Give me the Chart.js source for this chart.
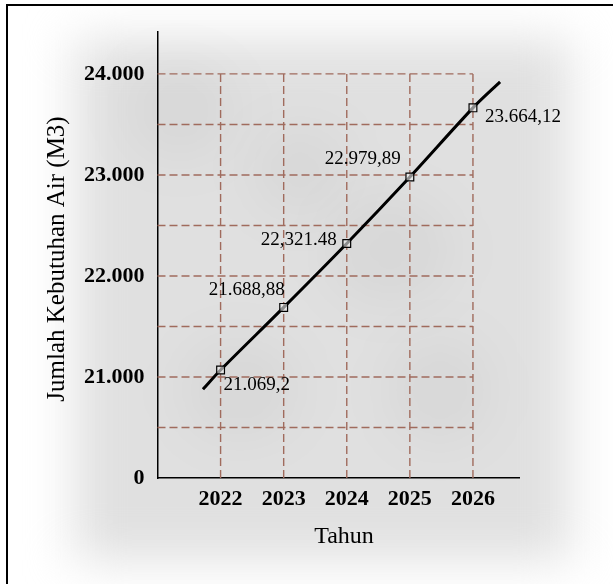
<!DOCTYPE html>
<html>
<head>
<meta charset="utf-8">
<script src="https://cdn.jsdelivr.net/npm/chart.js@4/dist/chart.umd.min.js"></script>
<style>
  html, body { margin: 0; padding: 0; background: #fff; }
  #wrap { width: 613px; height: 584px; }
</style>
</head>
<body>
<div id="wrap"><canvas id="myChart" width="613" height="584"></canvas></div>
<script>
// data
const years = [2022, 2023, 2024, 2025, 2026];
const demand = [21069.2, 21688.88, 22321.48, 22979.89, 23664.12];
const pointLabels = ['21.069,2', '21.688,88', '22,321.48', '22.979,89', '23.664,12'];
// the curve runs a little past the first and last year
const curveStart = [2021.72, 20878];
const curveEnd = [2026.43, 23921];
const yTicks = [20000, 21000, 22000, 23000, 24000];
const yTickLabels = ['0', '21.000', '22.000', '23.000', '24.000'];

const serif = "'Liberation Serif', 'Times New Roman', serif";

const points = [{ x: curveStart[0], y: curveStart[1] }]
    .concat(years.map((yr, i) => ({ x: yr, y: demand[i] })))
    .concat([{ x: curveEnd[0], y: curveEnd[1] }]);
const radii = points.map((p, i) => (i === 0 || i === points.length - 1) ? 0 : 5.5);

// backdrop: blurred grey shadow + frame
const backdrop = {
    id: 'backdrop',
    beforeDraw(chart) {
        const ctx = chart.ctx;
        ctx.save();
        ctx.fillStyle = '#fff';
        ctx.fillRect(0, 0, chart.width, chart.height);
        ctx.filter = 'blur(24px)';
        ctx.fillStyle = '#e0e0e0';
        ctx.fillRect(75, 40, 495, 520);
        ctx.filter = 'blur(30px)';
        ctx.fillStyle = 'rgba(0,0,0,0.045)';
        [[180, 110, 50, 45], [390, 250, 60, 50], [240, 390, 55, 45], [440, 390, 45, 50], [300, 170, 45, 40]].forEach(b => {
            ctx.beginPath();
            ctx.ellipse(b[0], b[1], b[2], b[3], 0, 0, Math.PI * 2);
            ctx.fill();
        });
        ctx.filter = 'none';
        ctx.strokeStyle = '#000';
        ctx.lineWidth = 2;
        ctx.beginPath();
        ctx.moveTo(6, 5);
        ctx.lineTo(chart.width, 5);
        ctx.moveTo(7, 4);
        ctx.lineTo(7, chart.height);
        ctx.stroke();
        ctx.restore();
    }
};

// dashed grid limited to the data range, plus axis titles
const dashedGrid = {
    id: 'dashedGrid',
    beforeDatasetsDraw(chart) {
        const ctx = chart.ctx;
        const x = chart.scales.x, y = chart.scales.y;
        const x0 = chart.chartArea.left, x1 = x.getPixelForValue(years[years.length - 1]);
        const yb = y.getPixelForValue(20000), yt = y.getPixelForValue(24000);
        ctx.save();
        ctx.strokeStyle = '#a06b5d';
        ctx.lineWidth = 1.4;
        ctx.setLineDash([8, 4]);
        for (let v = 20500; v <= 24000; v += 500) {
            const py = y.getPixelForValue(v);
            ctx.beginPath(); ctx.moveTo(x0, py); ctx.lineTo(x1, py); ctx.stroke();
        }
        years.forEach(yr => {
            const px = x.getPixelForValue(yr);
            ctx.beginPath(); ctx.moveTo(px, yb); ctx.lineTo(px, yt); ctx.stroke();
        });
        ctx.setLineDash([]);
        ctx.fillStyle = '#000';
        ctx.textAlign = 'center';
        ctx.textBaseline = 'middle';
        ctx.font = '24px ' + serif;
        ctx.fillText('Tahun', 344, 537);
        ctx.translate(57, 259);
        ctx.rotate(-Math.PI / 2);
        ctx.font = '25px ' + serif;
        ctx.fillText('Jumlah Kebutuhan Air (M3)', 0, 0);
        ctx.restore();
    }
};

// value labels next to the markers
const labelOffsets = [[3, 15, 'left'], [1, -17, 'right'], [-10, -3, 'right'], [-9, -18, 'right'], [12, 9, 'left']];
const valueLabels = {
    id: 'valueLabels',
    afterDatasetsDraw(chart) {
        const ctx = chart.ctx;
        const meta = chart.getDatasetMeta(0);
        ctx.save();
        ctx.font = '19px ' + serif;
        ctx.fillStyle = '#000';
        ctx.textBaseline = 'middle';
        pointLabels.forEach((t, i) => {
            const el = meta.data[i + 1];
            const o = labelOffsets[i];
            ctx.textAlign = o[2];
            ctx.fillText(t, el.x + o[0], el.y + o[1]);
        });
        ctx.restore();
    }
};

new Chart(document.getElementById('myChart'), {
    type: 'line',
    data: {
        datasets: [{
            label: 'Kebutuhan Air',
            data: points,
            borderColor: '#000',
            borderWidth: 3,
            tension: 0.3,
            pointStyle: 'rect',
            pointRadius: radii,
            pointBorderColor: '#000',
            pointBorderWidth: 1.2,
            pointBackgroundColor: 'rgba(235,235,235,0.6)'
        }]
    },
    options: {
        responsive: false,
        animation: false,
        layout: { padding: { left: 0, top: 32, right: 94, bottom: 0 } },
        plugins: {
            legend: { display: false },
            tooltip: { enabled: false }
        },
        scales: {
            x: {
                type: 'linear',
                min: 2021,
                max: 2026.73,
                grid: { display: false },
                border: { display: true, color: '#000', width: 1.5 },
                afterFit(s) { s.height = 106; },
                afterBuildTicks(s) { s.ticks = years.map(v => ({ value: v })); },
                ticks: {
                    padding: 0,
                    autoSkip: false,
                    maxRotation: 0,
                    color: '#000',
                    font: { family: serif, size: 22, weight: 'bold' },
                    callback: v => String(v)
                }
            },
            y: {
                min: 20000,
                max: 24415,
                grid: { display: false },
                border: { display: true, color: '#000', width: 1.5 },
                afterFit(s) { s.width = 157.5; },
                afterBuildTicks(s) { s.ticks = yTicks.map(v => ({ value: v })); },
                ticks: {
                    padding: 5,
                    autoSkip: false,
                    color: '#000',
                    font: { family: serif, size: 22, weight: 'bold' },
                    callback: v => yTickLabels[yTicks.indexOf(v)]
                }
            }
        }
    },
    plugins: [backdrop, dashedGrid, valueLabels]
});
</script>
</body>
</html>
